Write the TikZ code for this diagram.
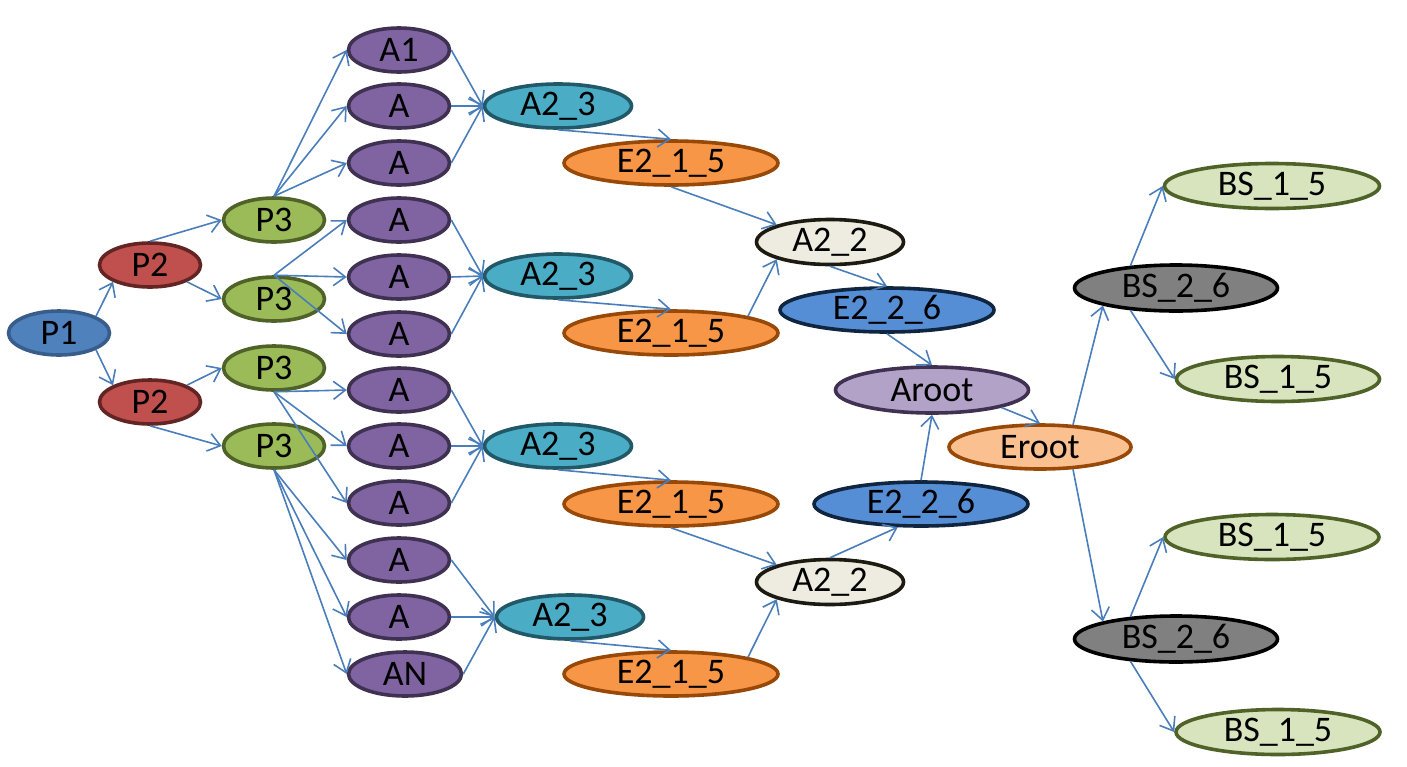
\documentclass[tikz,border=0pt]{standalone}
\usepackage{fontspec}
\setmainfont{Carlito}
\usetikzlibrary{arrows.meta,shapes.geometric}
\definecolor{arr}{RGB}{74,126,187}
\definecolor{p1f}{RGB}{79,129,189}\definecolor{p1d}{RGB}{56,93,138}
\definecolor{p2f}{RGB}{192,80,77}\definecolor{p2d}{RGB}{99,37,35}
\definecolor{p3f}{RGB}{155,187,89}\definecolor{p3d}{RGB}{79,98,40}
\definecolor{af}{RGB}{128,100,162}\definecolor{ad}{RGB}{63,49,81}
\definecolor{bf}{RGB}{75,172,198}\definecolor{bd}{RGB}{33,89,104}
\definecolor{ef}{RGB}{247,150,70}\definecolor{ed}{RGB}{152,72,7}
\definecolor{cf}{RGB}{238,236,225}\definecolor{cd}{RGB}{29,27,17}
\definecolor{ff}{RGB}{85,142,213}\definecolor{fd}{RGB}{16,37,63}
\definecolor{rf}{RGB}{179,162,199}\definecolor{rd}{RGB}{64,49,82}
\definecolor{sf}{RGB}{250,192,144}\definecolor{sd}{RGB}{152,72,7}
\definecolor{gf}{RGB}{128,128,128}\definecolor{gd}{RGB}{0,0,0}
\definecolor{hf}{RGB}{215,228,189}\definecolor{hd}{RGB}{79,98,40}
\tikzset{
  el/.style={ellipse, draw, line width=1.8pt, inner sep=0pt, minimum height=22pt,
             font=\fontsize{18}{21}\selectfont},
  pone/.style={el, fill=p1f, draw=p1d, minimum width=50.5pt},
  ptwo/.style={el, fill=p2f, draw=p2d, minimum width=50.5pt},
  pthree/.style={el, fill=p3f, draw=p3d, minimum width=50.5pt},
  anode/.style={el, fill=af, draw=ad, minimum width=50.5pt},
  bnode/.style={el, fill=bf, draw=bd, minimum width=73.5pt},
  enode/.style={el, fill=ef, draw=ed, minimum width=107pt},
  cnode/.style={el, fill=cf, draw=cd, minimum width=73.5pt, minimum height=22.5pt},
  fnode/.style={el, fill=ff, draw=fd, minimum width=107pt},
  rnode/.style={el, fill=rf, draw=rd, minimum width=96.5pt, minimum height=23pt},
  snode/.style={el, fill=sf, draw=sd, minimum width=91pt},
  gnode/.style={el, fill=gf, draw=gd, minimum width=101.5pt, minimum height=23pt},
  hnode/.style={el, fill=hf, draw=hd, minimum height=22.5pt},
  conn/.style={draw=arr, line width=0.8pt, -{Straight Barb[length=6pt,width=9pt]}}
}
\begin{document}
\begin{tikzpicture}[x=0.5pt,y=-0.5pt]
\useasboundingbox (0,0) rectangle (1407,766);
\node[pone] (p1) at (59,333) {P1};
\node[ptwo] (p2a) at (150,265) {P2};
\node[ptwo] (p2b) at (150,402) {P2};
\node[pthree] (p3a) at (274,220) {P3};
\node[pthree] (p3b) at (274,299) {P3};
\node[pthree] (p3c) at (274,368) {P3};
\node[pthree] (p3d) at (274,446) {P3};
\node[anode] (a1) at (399,50) {A1};
\node[anode] (a2) at (399,106) {A};
\node[anode] (a3) at (399,163) {A};
\node[anode] (a4) at (399,220) {A};
\node[anode] (a5) at (399,277) {A};
\node[anode] (a6) at (399,334) {A};
\node[anode] (a7) at (399,390) {A};
\node[anode] (a8) at (399,446) {A};
\node[anode] (a9) at (399,503) {A};
\node[anode] (a10) at (399,560) {A};
\node[anode] (a11) at (399,617) {A};
\node[anode, minimum width=56.5pt] (a12) at (405,674) {AN};
\node[bnode] (b1) at (558,106) {A2\_3};
\node[bnode] (b2) at (558,276) {A2\_3};
\node[bnode] (b3) at (558,446) {A2\_3};
\node[bnode] (b4) at (570,617) {A2\_3};
\node[enode] (e1) at (671,163) {E2\_1\_5};
\node[enode] (e2) at (671,333) {E2\_1\_5};
\node[enode] (e3) at (671,504) {E2\_1\_5};
\node[enode] (e4) at (671,674) {E2\_1\_5};
\node[cnode] (c1) at (830,242) {A2\_2};
\node[cnode] (c2) at (830,582) {A2\_2};
\node[fnode] (f1) at (887,310) {E2\_2\_6};
\node[fnode] (f2) at (921,504) {E2\_2\_6};
\node[rnode] (ar) at (932,390) {Aroot};
\node[snode] (er) at (1040,447) {Eroot};
\node[gnode] (g1) at (1176,288) {BS\_2\_6};
\node[gnode] (g2) at (1176,639) {BS\_2\_6};
\node[hnode, minimum width=107.5pt] (h1) at (1272,186) {BS\_1\_5};
\node[hnode, minimum width=101.5pt] (h2) at (1278,379) {BS\_1\_5};
\node[hnode, minimum width=107pt] (h3) at (1272,537) {BS\_1\_5};
\node[hnode, minimum width=102pt] (h4) at (1278,732) {BS\_1\_5};
% connectors
\draw[conn] (p1.north east) -- (p2a.south west);
\draw[conn] (p1.south east) -- (p2b.north west);
\draw[conn] (p2a.north) -- (p3a.west);
\draw[conn] (p2a.south east) -- (p3b.west);
\draw[conn] (p2b.north east) -- (p3c.west);
\draw[conn] (p2b.south) -- (p3d.west);
\foreach \t in {a1,a2,a3} \draw[conn] (p3a.north) -- (\t.west);
\foreach \t in {a4,a5,a6} \draw[conn] (p3b.north) -- (\t.west);
\foreach \t in {a7,a8,a9} \draw[conn] (p3c.south) -- (\t.west);
\foreach \t in {a10,a11,a12} \draw[conn] (p3d.south) -- (\t.west);
\foreach \s in {a1,a2,a3} \draw[conn] (\s.east) -- (b1.west);
\foreach \s in {a4,a5,a6} \draw[conn] (\s.east) -- (b2.west);
\foreach \s in {a7,a8,a9} \draw[conn] (\s.east) -- (b3.west);
\foreach \s in {a10,a11,a12} \draw[conn] (\s.east) -- (b4.west);
\draw[conn] (b1.south) -- (e1.north);
\draw[conn] (b2.south) -- (e2.north);
\draw[conn] (b3.south) -- (e3.north);
\draw[conn] (b4.south) -- (e4.north);
\draw[conn] (e1.south) -- (c1.north west);
\draw[conn] (e2.north east) -- (c1.south west);
\draw[conn] (e3.south) -- (c2.north west);
\draw[conn] (e4.north east) -- (c2.south west);
\draw[conn] (c1.south) -- (f1.north);
\draw[conn] (c2.north) -- (f2.-135);
\draw[conn] (f1.south) -- (ar.north);
\draw[conn] (f2.north) -- (ar.south);
\draw[conn] (ar.south east) -- (er.north);
\draw[conn] (er.34) -- (g1.south west);
\draw[conn] (er.-34) -- (g2.north west);
\draw[conn] (g1.154) -- (h1.west);
\draw[conn] (g1.-154) -- (h2.west);
\draw[conn] (g2.154) -- (h3.west);
\draw[conn] (g2.-154) -- (h4.west);
\end{tikzpicture}
\end{document}
